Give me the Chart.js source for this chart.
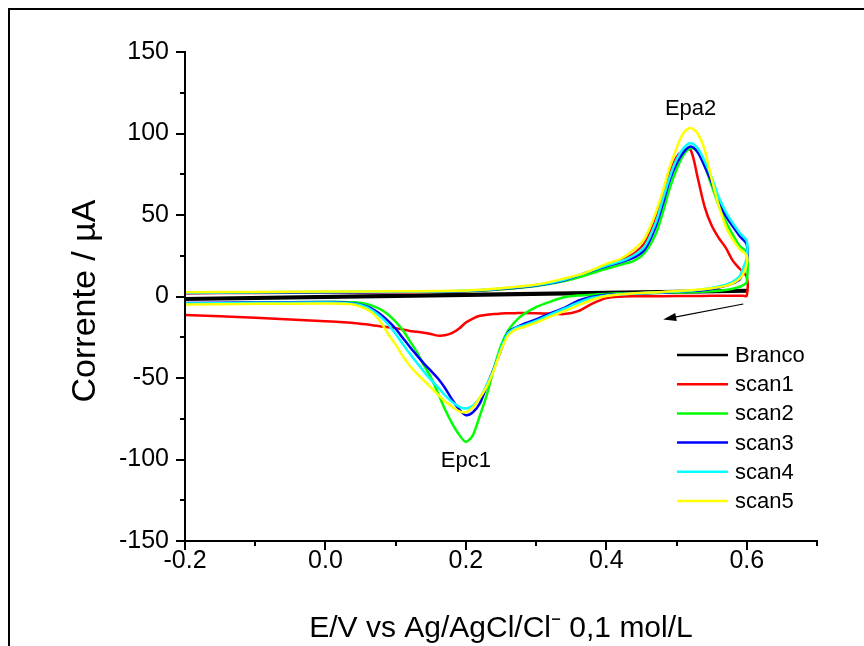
<!DOCTYPE html>
<html>
<head>
<meta charset="utf-8">
<script src="https://cdn.jsdelivr.net/npm/chart.js@4/dist/chart.umd.min.js"></script>
<style>
html,body{margin:0;padding:0;background:#fff;}
#wrap{width:864px;height:646px;position:relative;}
canvas{display:block;}
</style>
</head>
<body>
<div id="wrap"><canvas id="c" width="864" height="646"></canvas></div>
<script>
// ---------- DATA ----------
const seriesNames = ['Branco', 'scan1', 'scan2', 'scan3', 'scan4', 'scan5'];
const seriesColors = ['#000000', '#ff0000', '#00ff00', '#0000ff', '#00ffff', '#ffff00'];

// Branco (blank) potential / current
const brancoE = [-0.2, 0.2, 0.6, 0.6, 0.2, -0.2];
const brancoI = [-1.0, 1.5, 4.0, 3.0, 0.5, -2.0];

// anodic (forward) branch potentials, V
const forwardE = [-0.2, -0.1, 0.0, 0.1, 0.2, 0.25, 0.30, 0.34, 0.37, 0.40, 0.42, 0.44, 0.455, 0.47, 0.48, 0.49, 0.50, 0.51, 0.52, 0.53, 0.54, 0.55, 0.56, 0.57, 0.58, 0.59, 0.60];
// cathodic (reverse) branch potentials, V
const reverseE = [0.60, 0.595, 0.59, 0.58, 0.57, 0.55, 0.52, 0.48, 0.44, 0.42, 0.40, 0.38, 0.36, 0.34, 0.32, 0.30, 0.28, 0.27, 0.26, 0.25, 0.24, 0.23, 0.22, 0.21, 0.20, 0.19, 0.18, 0.17, 0.16, 0.15, 0.14, 0.13, 0.12, 0.11, 0.10, 0.09, 0.08, 0.07, 0.06, 0.04, 0.02, 0.0, -0.1, -0.2];

// currents, µA
const scan1Fwd = [2.0, 2.2, 2.4, 2.6, 3.2, 4.5, 6.8, 10, 14, 18.5, 22, 26.5, 33, 47, 60, 75, 85.5, 89.5, 90, 73, 55, 43.5, 36, 30, 22, 17, 12];
const scan1Rev = [0.4, 0.4, 0.4, 0.4, 0.4, 0.4, 0.3, 0.2, 0.1, -0.1, -1, -4.4, -9, -10.8, -10.5, -10.2, -10.1, -10.2, -10.3, -10.4, -10.8, -11.2, -11.8, -13.5, -16, -19.8, -22.5, -23.8, -24, -23, -22.2, -21.6, -21.1, -20.2, -19.4, -18.9, -18.4, -17.8, -17.2, -16.2, -15.6, -15.2, -13, -11.4];

const scan2Fwd = [2.3, 2.5, 2.7, 2.9, 3.3, 4.5, 6.5, 9.5, 13, 17, 19.5, 22, 27, 38, 51, 66, 78, 87, 91, 89, 80, 68, 56, 46, 38, 31, 27];
const scan2Rev = [9, 7, 6, 4.8, 4, 3.2, 2.6, 2.3, 2.0, 2.0, 1.6, 1.1, 0.6, -0.5, -3.2, -6.5, -11.5, -15.5, -21, -30, -44, -60, -73, -85, -89.2, -84.5, -77.5, -69, -59, -49.5, -42, -34, -27.2, -20.5, -15.5, -11.3, -8.3, -6.2, -4.8, -3.6, -3.3, -3.3, -3.8, -4.6];

const scan3Fwd = [2.2, 2.4, 2.6, 2.8, 3.3, 4.7, 6.8, 10, 14.5, 18.5, 21, 24, 29, 42.5, 56, 71, 81.5, 88.5, 92, 88.5, 80, 70, 58, 49.5, 43, 37, 32];
const scan3Rev = [20.4, 15, 10.5, 8, 6.5, 4.6, 3.3, 2.5, 1.8, 1.5, 1.1, -0.1, -2.5, -7, -10.3, -14, -17.2, -19.2, -22, -33, -44, -54.5, -65.5, -71, -72.8, -69, -63, -56, -50.2, -45.5, -41, -36, -30.8, -25.3, -19.8, -15.3, -11.5, -8.5, -6.3, -4.2, -3.6, -3.4, -3.6, -4.0];

const scan4Fwd = [2.4, 2.6, 2.8, 3.0, 3.5, 4.9, 7.0, 10.3, 14.5, 19, 21.5, 25.5, 31, 45, 59, 73, 84, 91, 94, 91, 83, 73, 61, 52, 45, 39, 34];
const scan4Rev = [24, 17.5, 12.5, 9, 7.2, 5.2, 3.6, 2.6, 1.9, 1.4, 0.6, -0.8, -3.8, -7.5, -11.2, -15, -18, -19.5, -22.5, -32, -44.5, -54, -62, -67, -68.7, -67.5, -64.5, -60.5, -55.5, -51, -46, -40.5, -35, -29, -23, -17.5, -13, -9.5, -6.8, -4.5, -3.9, -3.7, -3.9, -4.3];

const scan5Fwd = [2.6, 2.8, 3.0, 3.2, 3.7, 5.0, 7.3, 11, 14.5, 20, 23, 29, 36, 51, 64, 79, 91, 100.5, 103.3, 100, 90, 72, 56, 43, 35, 29, 25];
const scan5Rev = [20, 14, 11, 8, 6.5, 5, 3.8, 2.8, 2.0, 1.3, 0.3, -2, -5.5, -9, -12.4, -16, -19, -20.5, -24, -33, -45, -55, -62, -68, -71, -70.3, -67.5, -64.3, -60, -55.8, -51.5, -47.2, -42.5, -36.5, -29.5, -23.5, -16.5, -11.3, -8, -5, -4.4, -4.3, -4.5, -4.9];

// axis ticks
const xMajorTicks = [-0.2, 0.0, 0.2, 0.4, 0.6];
const xMinorTicks = [-0.1, 0.1, 0.3, 0.5, 0.7];
const yMajorTicks = [-150, -100, -50, 0, 50, 100, 150];
const yMinorTicks = [-125, -75, -25, 25, 75, 125];

// annotations (data coordinates)
const peakLabels = [
  { text: 'Epa2', x: 0.52, y: 115 },
  { text: 'Epc1', x: 0.2, y: -101 }
];
const scanArrow = { from: [0.595, -4.6], to: [0.481, -14.1] };

// ---------- BUILD ----------
function pts(E, I) { return E.map((e, i) => ({ x: e, y: I[i] })); }
const seriesData = [
  pts(brancoE, brancoI),
  pts(forwardE.concat(reverseE), scan1Fwd.concat(scan1Rev)),
  pts(forwardE.concat(reverseE), scan2Fwd.concat(scan2Rev)),
  pts(forwardE.concat(reverseE), scan3Fwd.concat(scan3Rev)),
  pts(forwardE.concat(reverseE), scan4Fwd.concat(scan4Rev)),
  pts(forwardE.concat(reverseE), scan5Fwd.concat(scan5Rev))
];

const FONT = "'Liberation Sans', Arial, Helvetica, sans-serif";

const datasets = seriesNames.map((n, i) => ({
  label: n,
  data: seriesData[i],
  showLine: true,
  borderColor: seriesColors[i],
  backgroundColor: seriesColors[i],
  borderWidth: 2.5,
  pointRadius: 0,
  tension: i === 0 ? 0 : 0.3,
  fill: false,
  order: seriesNames.length - i
}));

const decorPlugin = {
  id: 'decor',
  afterDraw(chart) {
    const ctx = chart.ctx;
    const xs = chart.scales.x, ys = chart.scales.y;
    const area = chart.chartArea;
    ctx.save();
    // outer frame
    ctx.strokeStyle = '#000';
    ctx.lineWidth = 2;
    ctx.strokeRect(9, 9, 900, 700);

    // tick marks
    ctx.lineWidth = 2;
    ctx.beginPath();
    xMajorTicks.forEach(v => { const p = Math.round(xs.getPixelForValue(v)); ctx.moveTo(p, area.bottom); ctx.lineTo(p, area.bottom + 9); });
    xMinorTicks.forEach(v => { const p = Math.round(xs.getPixelForValue(v)); ctx.moveTo(p, area.bottom); ctx.lineTo(p, area.bottom + 5); });
    yMajorTicks.forEach(v => { const p = Math.round(ys.getPixelForValue(v)); ctx.moveTo(area.left, p); ctx.lineTo(area.left - 9, p); });
    yMinorTicks.forEach(v => { const p = Math.round(ys.getPixelForValue(v)); ctx.moveTo(area.left, p); ctx.lineTo(area.left - 5, p); });
    ctx.stroke();

    // axis titles
    ctx.fillStyle = '#000';
    ctx.font = '30px ' + FONT;
    ctx.textAlign = 'center';
    ctx.textBaseline = 'middle';
    ctx.fillText('E/V vs Ag/AgCl/Cl\u207B 0,1 mol/L', (area.left + area.right) / 2, 629);
    ctx.save();
    ctx.translate(86, 301);
    ctx.rotate(-Math.PI / 2);
    ctx.font = '34px ' + FONT;
    ctx.fillText('Corrente / \u00B5A', 0, 0);
    ctx.restore();

    // peak labels
    ctx.font = '22px ' + FONT;
    peakLabels.forEach(l => ctx.fillText(l.text, xs.getPixelForValue(l.x), ys.getPixelForValue(l.y)));

    // arrow
    const x1 = xs.getPixelForValue(scanArrow.from[0]), y1 = ys.getPixelForValue(scanArrow.from[1]);
    const x2 = xs.getPixelForValue(scanArrow.to[0]), y2 = ys.getPixelForValue(scanArrow.to[1]);
    const ang = Math.atan2(y2 - y1, x2 - x1);
    ctx.lineWidth = 1.2;
    ctx.beginPath(); ctx.moveTo(x1, y1); ctx.lineTo(x2 - 8 * Math.cos(ang), y2 - 8 * Math.sin(ang)); ctx.stroke();
    ctx.beginPath();
    ctx.moveTo(x2, y2);
    ctx.lineTo(x2 - 13 * Math.cos(ang) + 4 * Math.sin(ang), y2 - 13 * Math.sin(ang) - 4 * Math.cos(ang));
    ctx.lineTo(x2 - 13 * Math.cos(ang) - 4 * Math.sin(ang), y2 - 13 * Math.sin(ang) + 4 * Math.cos(ang));
    ctx.closePath(); ctx.fill();

    // legend
    ctx.font = '22px ' + FONT;
    ctx.textAlign = 'left';
    ctx.textBaseline = 'middle';
    seriesNames.forEach((n, i) => {
      const y = 355 + i * 29.2;
      ctx.strokeStyle = seriesColors[i];
      ctx.lineWidth = 2.5;
      ctx.beginPath(); ctx.moveTo(677, y); ctx.lineTo(728, y); ctx.stroke();
      ctx.fillStyle = '#000';
      ctx.fillText(n, 735, y + 1);
    });
    ctx.restore();
  }
};

new Chart(document.getElementById('c'), {
  type: 'scatter',
  data: { datasets },
  options: {
    responsive: false,
    animation: false,
    events: [],
    layout: { padding: { left: 0, top: 52, right: 47, bottom: 0 } },
    plugins: { legend: { display: false }, tooltip: { enabled: false } },
    scales: {
      x: {
        type: 'linear', min: -0.2, max: 0.7,
        afterBuildTicks: s => { s.ticks = xMajorTicks.map(v => ({ value: v })); },
        afterFit: s => { s.height = 105; },
        grid: { display: false, drawTicks: false },
        border: { display: true, color: '#000', width: 2, z: 1 },
        ticks: {
          color: '#000', font: { family: FONT, size: 25 }, padding: 5,
          maxRotation: 0, autoSkip: false,
          callback: v => Number(v).toFixed(1)
        }
      },
      y: {
        type: 'linear', min: -150, max: 150,
        afterBuildTicks: s => { s.ticks = yMajorTicks.map(v => ({ value: v })); },
        afterFit: s => { s.width = 185; },
        grid: { display: false, drawTicks: false },
        border: { display: true, color: '#000', width: 2, z: 1 },
        ticks: {
          color: '#000', font: { family: FONT, size: 25 }, padding: 16,
          autoSkip: false,
          callback: v => String(v)
        }
      }
    }
  },
  plugins: [decorPlugin]
});
</script>
</body>
</html>
